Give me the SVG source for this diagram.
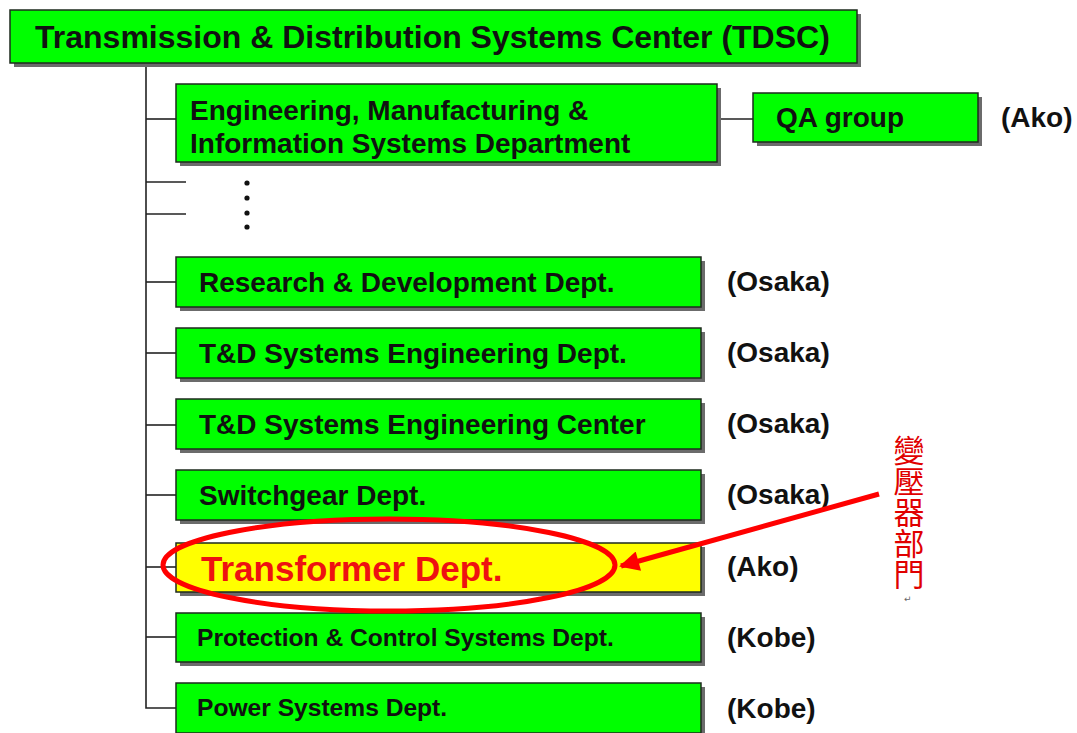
<svg xmlns="http://www.w3.org/2000/svg" width="1077" height="733" viewBox="0 0 1077 733">
  <style>
    .box { fill: #00ff00; stroke: #1e2a1e; stroke-width: 1.5; }
    .hl { fill: #ffff00; stroke: #1e2a1e; stroke-width: 1.5; }
    .shadow { fill: #6b6b6b; }
    .lbl { font-family: "Liberation Sans", Arial, sans-serif; font-weight: bold; fill: #111; }
    .loc { font-family: "Liberation Sans", Arial, sans-serif; font-weight: bold; font-size: 28px; fill: #111; }
    .wire { stroke: #222; stroke-width: 1.6; fill: none; }
    .mark { stroke: #ff0000; stroke-width: 5; fill: none; }
  </style>
  <defs>
    <marker id="redHead" viewBox="0 0 10 10" refX="9" refY="5" markerWidth="5" markerHeight="4" markerUnits="strokeWidth" orient="auto">
      <path d="M0,0 L10,5 L0,10 Z" fill="#ff0000"/>
    </marker>
  </defs>
  <rect width="1077" height="733" fill="#ffffff"/>

  <!-- tree connectors -->
  <g id="connectors">
    <path class="wire" d="M146,63 V708 H176"/>
    <line class="wire" x1="146" y1="119" x2="176" y2="119"/>
    <line class="wire" x1="717" y1="119" x2="753" y2="119"/>
    <line class="wire" x1="146" y1="182" x2="186" y2="182"/>
    <line class="wire" x1="146" y1="214" x2="186" y2="214"/>
    <line class="wire" x1="146" y1="282" x2="176" y2="282"/>
    <line class="wire" x1="146" y1="353" x2="176" y2="353"/>
    <line class="wire" x1="146" y1="425" x2="176" y2="425"/>
    <line class="wire" x1="146" y1="495" x2="176" y2="495"/>
    <line class="wire" x1="146" y1="567" x2="176" y2="567"/>
    <line class="wire" x1="146" y1="637" x2="176" y2="637"/>
  </g>

  <!-- ellipsis dots between branches -->
  <g id="ellipsis" fill="#111">
    <circle cx="247" cy="183" r="2.6"/>
    <circle cx="247" cy="198" r="2.6"/>
    <circle cx="247" cy="213" r="2.6"/>
    <circle cx="247" cy="227" r="2.6"/>
  </g>

  <g id="tdsc">
    <rect class="shadow" x="14" y="14" width="847" height="53"/>
    <rect class="box" x="10" y="10" width="847" height="53"/>
    <text class="lbl" x="35" y="48" font-size="32">Transmission &amp; Distribution Systems Center (TDSC)</text>
  </g>

  <g id="emis">
    <rect class="shadow" x="180" y="88" width="541" height="78"/>
    <rect class="box" x="176" y="84" width="541" height="78"/>
    <text class="lbl" x="190" y="120" font-size="28">Engineering, Manufacturing &amp;</text>
    <text class="lbl" x="190" y="153" font-size="28">Information Systems Department</text>
  </g>

  <g id="qa">
    <rect class="shadow" x="757" y="97" width="225" height="49"/>
    <rect class="box" x="753" y="93" width="225" height="49"/>
    <text class="lbl" x="776" y="127" font-size="28">QA group</text>
    <text class="loc" x="1001" y="127">(Ako)</text>
  </g>

  <g id="rnd">
    <rect class="shadow" x="180" y="261" width="525" height="50"/>
    <rect class="box" x="176" y="257" width="525" height="50"/>
    <text class="lbl" x="199" y="292" font-size="28">Research &amp; Development Dept.</text>
    <text class="loc" x="727" y="291">(Osaka)</text>
  </g>

  <g id="tdse-dept">
    <rect class="shadow" x="180" y="332" width="525" height="50"/>
    <rect class="box" x="176" y="328" width="525" height="50"/>
    <text class="lbl" x="199" y="363" font-size="28">T&amp;D Systems Engineering Dept.</text>
    <text class="loc" x="727" y="362">(Osaka)</text>
  </g>

  <g id="tdse-center">
    <rect class="shadow" x="180" y="403" width="525" height="50"/>
    <rect class="box" x="176" y="399" width="525" height="50"/>
    <text class="lbl" x="199" y="434" font-size="28">T&amp;D Systems Engineering Center</text>
    <text class="loc" x="727" y="433">(Osaka)</text>
  </g>

  <g id="switchgear">
    <rect class="shadow" x="180" y="474" width="525" height="50"/>
    <rect class="box" x="176" y="470" width="525" height="50"/>
    <text class="lbl" x="199" y="505" font-size="28">Switchgear Dept.</text>
    <text class="loc" x="727" y="504">(Osaka)</text>
  </g>

  <g id="transformer">
    <rect class="shadow" x="180" y="547" width="525" height="49"/>
    <rect class="hl" x="176" y="543" width="525" height="49"/>
    <text class="lbl" x="201" y="581" font-size="35" style="fill:#ee1111">Transformer Dept.</text>
    <text class="loc" x="727" y="576">(Ako)</text>
  </g>

  <g id="protection">
    <rect class="shadow" x="180" y="617" width="525" height="49"/>
    <rect class="box" x="176" y="613" width="525" height="49"/>
    <text class="lbl" x="197" y="646" font-size="24.6">Protection &amp; Control Systems Dept.</text>
    <text class="loc" x="727" y="647">(Kobe)</text>
  </g>

  <g id="power">
    <rect class="shadow" x="180" y="687" width="525" height="50"/>
    <rect class="box" x="176" y="683" width="525" height="50"/>
    <text class="lbl" x="197" y="716" font-size="24.6">Power Systems Dept.</text>
    <text class="loc" x="727" y="718">(Kobe)</text>
  </g>

  <!-- red highlight: ring, pointer and vertical caption -->
  <g id="highlight">
    <ellipse class="mark" cx="389" cy="565" rx="226" ry="46"/>
    <line class="mark" x1="879" y1="494" x2="621" y2="566" marker-end="url(#redHead)"/>
    <text x="909" y="435" writing-mode="vertical-rl" font-family="'Noto Sans CJK TC', 'Noto Sans CJK SC', sans-serif" font-size="31" fill="#e00000">變壓器部門</text>
    <text x="904" y="602" font-family="'DejaVu Sans', sans-serif" font-size="9" fill="#666">↵</text>
  </g>
</svg>
